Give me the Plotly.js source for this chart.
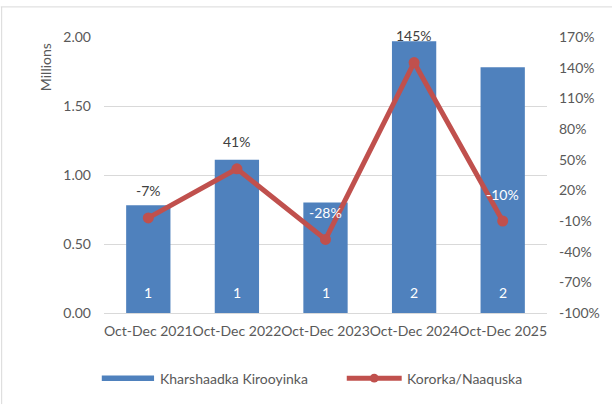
<!DOCTYPE html>
<html><head><meta charset="utf-8">
<script src="https://cdn.plot.ly/plotly-3.0.1.min.js"></script>
<style>html,body{margin:0;padding:0;background:#fff}#chart{width:612px;height:405px}</style>
</head><body><div id="chart"></div>
<script>
const categories = ["Oct-Dec 2021","Oct-Dec 2022","Oct-Dec 2023","Oct-Dec 2024","Oct-Dec 2025"];
const expenses = [0.78, 1.11, 0.80, 1.97, 1.78];
const barLabels = ["1","1","1","2","2"];
const growth = [-7, 41, -28, 145, -10];
const growthLabels = ["-7%","41%","-28%","145%","-10%"];
const growthLabelColors = ["#404040","#404040","#ffffff","#404040","#ffffff"];
const seriesNames = ["Kharshaadka Kirooyinka","Kororka/Naaquska"];
const y2Ticks = [170,140,110,80,50,20,-10,-40,-70,-100];

const FONT = "Lato, Liberation Sans, Arial, sans-serif";
const FS = 14;
const BLUE = "#4F81BD", RED = "#C0504D", GREY = "#595959";

const traces = [
  {type:"bar", x:categories, y:expenses, name:seriesNames[0], marker:{color:BLUE}, hoverinfo:"skip"},
  {type:"scatter", mode:"lines+markers", x:categories, y:growth, yaxis:"y2", name:seriesNames[1],
   line:{color:RED, width:5}, marker:{color:RED, size:11}, hoverinfo:"skip"}
];

const annotations = [];
categories.forEach((c,i)=>{
  annotations.push({x:c, y:0, xref:"x", yref:"y", text:barLabels[i], showarrow:false,
    yshift:21, font:{family:FONT, size:FS, color:"#ffffff"}});
  annotations.push({x:c, y:growth[i], xref:"x", yref:"y2", text:growthLabels[i], showarrow:false,
    yshift:27, font:{family:FONT, size:FS, color:growthLabelColors[i]}});
});
annotations.push({xref:"paper", yref:"paper", x:-0.133, y:0.891, xanchor:"center", yanchor:"middle",
  text:"Millions", textangle:-90, showarrow:false, font:{family:FONT, size:FS, color:GREY}});
// legend texts
annotations.push({xref:"paper", yref:"paper", x:0.122, y:-0.236, xanchor:"left", yanchor:"middle",
  text:seriesNames[0], showarrow:false, font:{family:FONT, size:FS, color:GREY}});
annotations.push({xref:"paper", yref:"paper", x:0.679, y:-0.236, xanchor:"left", yanchor:"middle",
  text:seriesNames[1], showarrow:false, font:{family:FONT, size:FS, color:GREY}});

const shapes = [
  {type:"line", xref:"paper", yref:"paper", x0:-0.233, x1:1.15, y0:1.109, y1:1.109, line:{color:"#D9D9D9", width:1}},
  {type:"line", xref:"paper", yref:"paper", x0:-0.231, x1:-0.231, y0:1.109, y1:-0.33, line:{color:"#D9D9D9", width:1}},
  // legend swatches
  {type:"rect", xref:"paper", yref:"paper", x0:-0.005, x1:0.113, y0:-0.246, y1:-0.226, fillcolor:BLUE, line:{width:0}},
  {type:"line", xref:"paper", yref:"paper", x0:0.548, x1:0.672, y0:-0.236, y1:-0.236, line:{color:RED, width:5}},
  {type:"circle", xref:"paper", yref:"paper", x0:0.600, x1:0.620, y0:-0.252, y1:-0.220, fillcolor:RED, line:{width:0}}
];

const layout = {
  width:612, height:405,
  margin:{l:104, r:65, t:37, b:92},
  paper_bgcolor:"#fff", plot_bgcolor:"#fff",
  showlegend:false, bargap:0.5,
  font:{family:FONT, size:FS, color:GREY},
  xaxis:{type:"category", showgrid:false, showline:true, linecolor:"#D9D9D9", linewidth:1,
    ticks:"", tickangle:0, ticklabelstandoff:5, tickfont:{family:FONT, size:FS, color:GREY}, fixedrange:true},
  yaxis:{range:[0,2], tickvals:[0,0.5,1,1.5,2], ticktext:["0.00","0.50","1.00","1.50","2.00"],
    showgrid:true, gridcolor:"#D9D9D9", gridwidth:1, zeroline:false, ticks:"", ticklen:0,
    ticklabelstandoff:12, tickfont:{family:FONT, size:FS, color:GREY}, automargin:false},
  yaxis2:{overlaying:"y", side:"right", range:[-100,170], tickvals:y2Ticks,
    ticktext:y2Ticks.map(v=>v+"%"), showgrid:false, zeroline:false, ticks:"",
    ticklabelstandoff:11, tickfont:{family:FONT, size:FS, color:GREY}, automargin:false},
  annotations:annotations, shapes:shapes
};
Plotly.newPlot("chart", traces, layout, {staticPlot:true, displayModeBar:false});
</script></body></html>
